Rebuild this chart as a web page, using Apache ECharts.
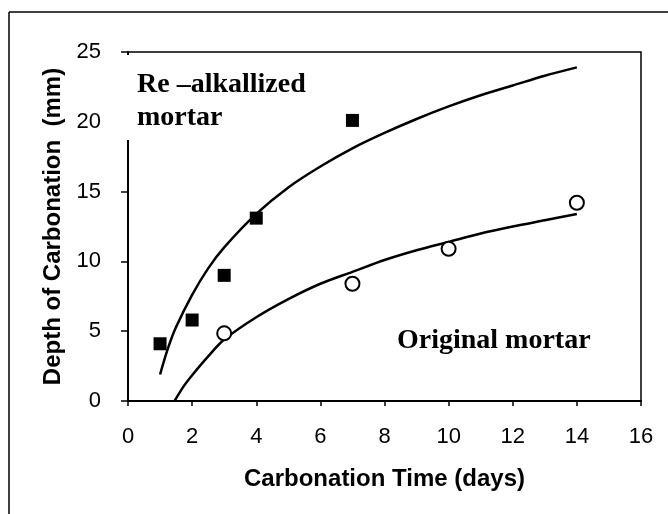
<!DOCTYPE html>
<html>
<head>
    <meta charset="utf-8">
    <title>Carbonation depth</title>
    <script src="https://cdn.jsdelivr.net/npm/echarts@6/dist/echarts.min.js"></script>
    <style>
        html, body { margin: 0; padding: 0; background: #fff; }
        #mychart { width: 668px; height: 514px; }
    </style>
</head>
<body>
<div id="mychart"></div>
<script>
    // measured points
    var realkDays = [1, 2, 3, 4, 7];
    var realkDepth = [4.1, 5.8, 9.0, 13.1, 20.1];
    var origDays = [3, 7, 10, 14];
    var origDepth = [4.85, 8.4, 10.9, 14.2];

    // trend curves
    var realkFitDays = [1, 1.25, 1.5, 2, 2.5, 3, 4, 5, 6, 7, 8, 9, 10, 11, 12, 13, 14];
    var realkFitDepth = [1.9, 3.8, 5.3, 7.6, 9.5, 11.0, 13.4, 15.3, 16.8, 18.1, 19.2, 20.2, 21.1, 21.9, 22.6, 23.3, 23.9];
    var origFitDays = [1.45, 1.75, 2, 2.5, 3, 4, 5, 6, 7, 8, 9, 10, 11, 12, 13, 14];
    var origFitDepth = [0, 1.1, 1.85, 3.2, 4.4, 6.0, 7.3, 8.4, 9.25, 10.1, 10.8, 11.4, 12.0, 12.5, 12.95, 13.4];

    var xTicks = [0, 2, 4, 6, 8, 10, 12, 14, 16];
    var yTicks = [0, 5, 10, 15, 20, 25];

    function pairs(xs, ys) {
        var out = [];
        for (var i = 0; i < xs.length; i++) {
            out.push([xs[i], ys[i]]);
        }
        return out;
    }

    var sans = '"Liberation Sans", Arial, sans-serif';
    var serif = '"Liberation Serif", "Times New Roman", serif';

    var myChart = echarts.init(document.getElementById('mychart'));
    var option = {
        backgroundColor: '#fff',
        animation: false,
        grid: {
            left: 128,
            right: 27,
            top: 52,
            bottom: 113,
            show: true,
            borderColor: '#000',
            borderWidth: 1.5
        },
        xAxis: {
            type: 'value',
            min: xTicks[0],
            max: xTicks[xTicks.length - 1],
            interval: 2,
            name: 'Carbonation Time (days)',
            nameLocation: 'middle',
            nameGap: 66,
            nameTextStyle: { fontFamily: sans, fontSize: 24, fontWeight: 'bold', color: '#000' },
            axisLine: { lineStyle: { color: '#000', width: 2 } },
            axisTick: { show: true, inside: false, length: 5, lineStyle: { color: '#000', width: 1.5 } },
            axisLabel: { fontFamily: sans, fontSize: 22, color: '#000', margin: 25 },
            splitLine: { show: false }
        },
        yAxis: {
            type: 'value',
            min: yTicks[0],
            max: yTicks[yTicks.length - 1],
            interval: 5,
            name: 'Depth of Carbonation  (mm)',
            nameLocation: 'middle',
            nameGap: 59,
            nameTextStyle: { fontFamily: sans, fontSize: 24, fontWeight: 'bold', color: '#000' },
            axisLine: { lineStyle: { color: '#000', width: 2 } },
            axisTick: { show: true, inside: false, length: 7, lineStyle: { color: '#000', width: 1.5 } },
            axisLabel: { fontFamily: sans, fontSize: 22, color: '#000', margin: 27 },
            splitLine: { show: false }
        },
        graphic: [
            // outer frame (top and left only)
            { type: 'line', shape: { x1: 9, y1: 12, x2: 668, y2: 12 }, style: { stroke: '#000', lineWidth: 1.5 }, z: 50 },
            { type: 'line', shape: { x1: 9, y1: 12, x2: 9, y2: 514 }, style: { stroke: '#000', lineWidth: 1.5 }, z: 50 },
            // label box hides part of the left axis
            { type: 'rect', shape: { x: 114, y: 55, width: 206, height: 85 }, style: { fill: '#fff' }, z: 50 },
            {
                type: 'text', left: 137, top: 68, z: 51,
                style: {
                    text: 'Re \u2013alkallized\nmortar',
                    font: 'bold 28px ' + serif,
                    fill: '#000',
                    lineHeight: 33
                }
            },
            {
                type: 'text', left: 397, top: 327, z: 51,
                style: {
                    text: 'Original mortar',
                    font: 'bold 28px ' + serif,
                    fill: '#000'
                }
            }
        ],
        series: [
            {
                name: 'Re-alkalized fit',
                type: 'line',
                data: pairs(realkFitDays, realkFitDepth),
                smooth: 0.3,
                showSymbol: false,
                lineStyle: { color: '#000', width: 2.5 },
                z: 2
            },
            {
                name: 'Original fit',
                type: 'line',
                data: pairs(origFitDays, origFitDepth),
                smooth: 0.3,
                showSymbol: false,
                lineStyle: { color: '#000', width: 2.5 },
                z: 2
            },
            {
                name: 'Re-alkalized mortar',
                type: 'scatter',
                data: pairs(realkDays, realkDepth),
                symbol: 'rect',
                symbolSize: 13,
                itemStyle: { color: '#000', opacity: 1 },
                z: 3
            },
            {
                name: 'Original mortar',
                type: 'scatter',
                data: pairs(origDays, origDepth),
                symbol: 'circle',
                symbolSize: 14,
                itemStyle: { color: '#fff', borderColor: '#000', borderWidth: 2, opacity: 1 },
                z: 3
            }
        ]
    };
    myChart.setOption(option);
</script>
</body>
</html>
